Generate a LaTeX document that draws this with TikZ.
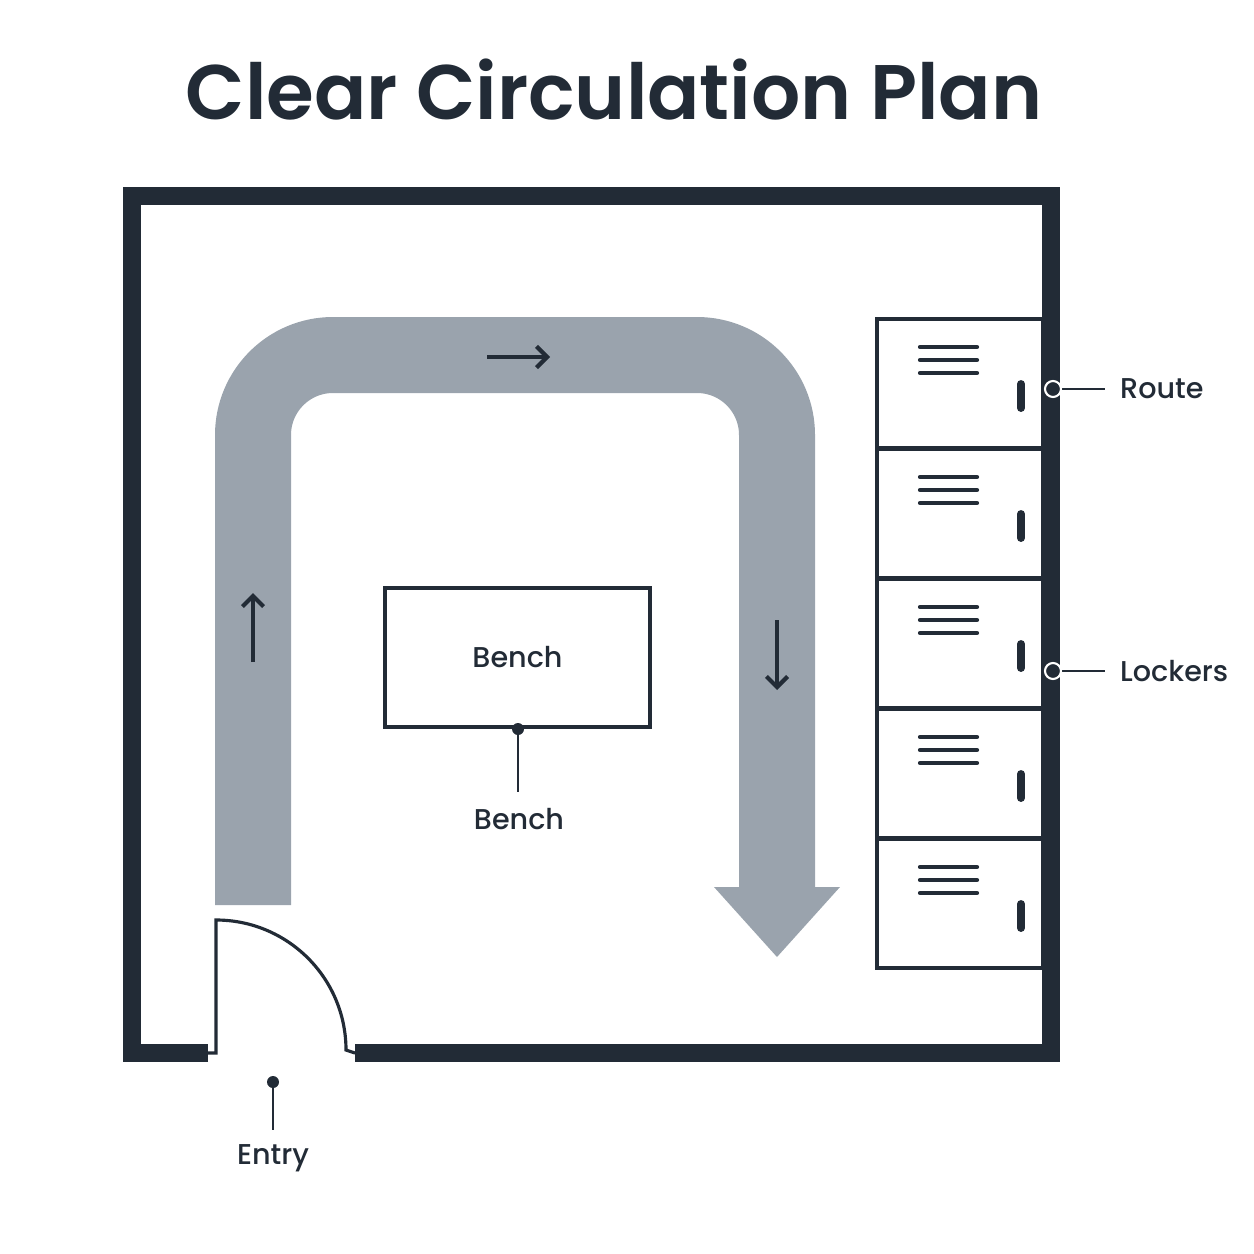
\documentclass[tikz,border=0pt]{standalone}
\usepackage{fontspec}
\setmainfont{Poppins}[BoldFont={Poppins SemiBold}]
\newfontfamily\medf{Poppins Medium}
\begin{document}
\begin{tikzpicture}[x=0.02cm,y=-0.02cm,
  lbl/.style={font=\medf\fontsize{16.3}{20}\selectfont, text=wall},
  pin/.style={fill=wall, draw=white, line width=1.2pt},
  small/.style={wall, line width=2.4pt, -{Straight Barb[length=6pt,width=12pt]}}]
\definecolor{wall}{HTML}{222B36}
\definecolor{route}{HTML}{9AA3AD}
\usetikzlibrary{arrows.meta}
\useasboundingbox (0,0) rectangle (1254,1254);
\node[font=\fontsize{44}{50}\selectfont\bfseries, text=wall] (title) at (614,90) {Clear Circulation Plan};
% walls
\draw[wall, line width=18*0.02cm] (208,1053)--(132,1053)--(132,196)--(1051,196)--(1051,1053)--(355,1053);
% door
\draw[wall, line width=1.8pt] (208,1053)--(216,1053)--(216,920) arc[start angle=-90,end angle=0,radius=130] -- (355,1053);
% route
\draw[route, line width=76*0.02cm, rounded corners=80*0.02cm] (253,905)--(253,355)--(777,355)--(777,888);
\fill[route] (714,887)--(840,887)--(777,957)--cycle;
\draw[small] (487,357)--(550,357);
\draw[small] (253,662)--(253,593);
\draw[small] (777,620)--(777,690);
% bench
\node[draw=wall, line width=2.2pt, minimum width=265*0.02cm, minimum height=139*0.02cm, lbl] (bench) at (517.5,657.5) {Bench};
\coordinate (bp) at (518,729);
\node[lbl] (benchl) at (519,819) {Bench};
\draw[wall, line width=1.5pt] (bp)--(518,792);
\fill[wall] (bp) circle[radius=6];
% lockers
\foreach \t in {319,449,579,709,839}{
  \draw[wall, line width=2.2pt] (877,\t) rectangle (1043,\t+129);
  \foreach \d in {28,41,54} \draw[wall, line width=2.4pt, line cap=round] (920,\t+\d)--(977,\t+\d);
  \draw[wall, line width=4.5pt, line cap=round] (1021,\t+65)--(1021,\t+89);
}
% callouts
\coordinate (rp) at (1053,389);
\node[lbl, anchor=west] (route) at (1114,389) {Route};
\draw[wall, line width=1.5pt] (rp)--(1105,389);
\draw[pin] (rp) circle[radius=8];
\coordinate (lp) at (1053,671);
\node[lbl, anchor=west] (lockers) at (1114,671) {Lockers};
\draw[wall, line width=1.5pt] (lp)--(1105,671);
\draw[pin] (lp) circle[radius=8];
\coordinate (ep) at (273,1082);
\node[lbl] (entry) at (273,1158) {Entry};
\draw[wall, line width=1.5pt] (ep)--(273,1130);
\fill[wall] (ep) circle[radius=6];
\end{tikzpicture}
\end{document}
